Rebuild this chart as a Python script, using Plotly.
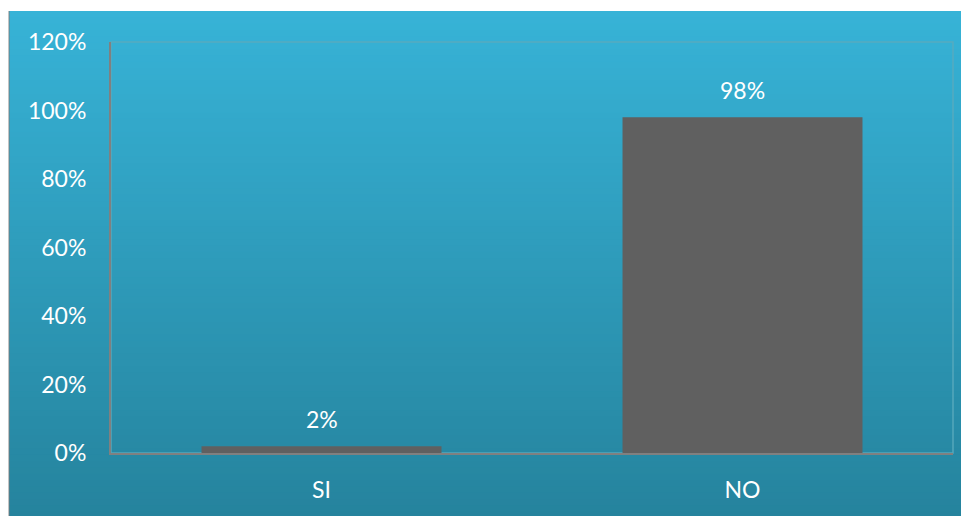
import plotly.graph_objects as go

categories = ["SI", "NO"]
values = [0.02, 0.98]
labels = ["2%", "98%"]
y_tickvals = [0, 0.2, 0.4, 0.6, 0.8, 1.0, 1.2]
y_ticktext = ["0%", "20%", "40%", "60%", "80%", "100%", "120%"]

OFF = 8  # page body margin
W, H = 969 - OFF, 516 - OFF
L, R, T, B = 111 - OFF, 16, 42 - OFF, 63
pw, ph = W - L - R, H - T - B

def px_x(p):
    return (p - OFF - L) / pw

def px_y(p):
    return (H - B - (p - OFF)) / ph

fig = go.Figure()
fig.add_trace(go.Bar(
    x=categories, y=values, marker_color="#606060", marker_line_width=0,
    width=0.57, hoverinfo="skip",
))

shapes = []
top_c = (55, 179, 215)
bot_c = (37, 131, 157)
x0, x1 = px_x(9), px_x(969 + 2)
ytop, ybot = 11, 516 + 2
N = 80
for i in range(N):
    a = ytop + (ybot - ytop) * i / N
    b = ytop + (ybot - ytop) * (i + 1) / N + 0.8
    t = (i + 0.5) / N
    c = tuple(round(top_c[k] + (bot_c[k] - top_c[k]) * t) for k in range(3))
    shapes.append(dict(type="rect", xref="paper", yref="paper", x0=x0, x1=x1,
                       y0=px_y(b), y1=px_y(a), line_width=0,
                       fillcolor="rgb(%d,%d,%d)" % c, layer="below"))
shapes.append(dict(type="line", xref="paper", yref="paper", x0=px_x(9), x1=px_x(9),
                   y0=px_y(516), y1=px_y(11), line=dict(color="rgba(120,120,120,0.6)", width=1.5),
                   layer="below"))
shapes.append(dict(type="rect", xref="paper", yref="paper", x0=0, x1=1, y0=0, y1=1,
                   line=dict(color="rgba(90,170,190,0.9)", width=1.5), layer="below"))

fig.update_layout(
    width=W, height=H,
    margin=dict(l=L, r=R, t=T, b=B),
    paper_bgcolor="white", plot_bgcolor="rgba(0,0,0,0)",
    showlegend=False, shapes=shapes,
    font=dict(family="Lato", color="white", size=23),
)
fig.update_yaxes(
    range=[0, 1.2], tickvals=y_tickvals, ticktext=y_ticktext,
    showgrid=False, zeroline=False, showline=True, linecolor="#808080", linewidth=2,
    ticks="", ticklabelstandoff=18, tickfont=dict(size=23, color="white"),
)
fig.update_xaxes(
    showgrid=False, showline=True, linecolor="#808080", linewidth=2,
    ticks="", ticklabelstandoff=15, tickfont=dict(size=23, color="white"),
)
for c, v, lab in zip(categories, values, labels):
    fig.add_annotation(x=c, y=v, text=lab, showarrow=False, yanchor="bottom",
                       yshift=11, font=dict(size=23, color="white"))

fig.write_html("out.html")
